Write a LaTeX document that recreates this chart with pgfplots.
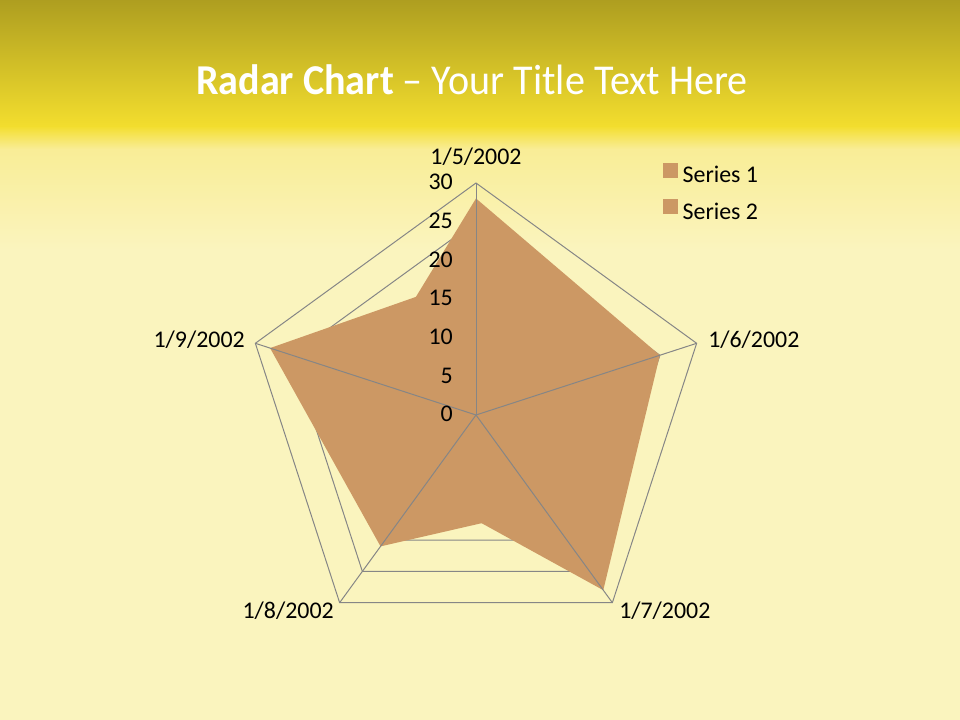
\documentclass[border=0pt]{standalone}
\usepackage{pgfplots}
\pgfplotsset{compat=1.18}
\usepackage{fontspec}
\setmainfont{Carlito}

\definecolor{radarfill}{RGB}{204,152,100}
\definecolor{gridgrey}{RGB}{134,134,134}
\definecolor{bgtop}{RGB}{174,158,32}
\definecolor{bgmid}{RGB}{243,222,46}
\definecolor{bgpale}{RGB}{250,244,190}
\definecolor{bgwarm}{RGB}{249,237,150}

\newcommand{\lab}{\fontsize{18}{21.6}\selectfont}

\begin{document}
\begin{tikzpicture}[x=0.75bp,y=0.75bp]
\useasboundingbox (0,0) rectangle (960,720);
% slide background
\fill[bgpale] (0,0) rectangle (960,720);
\shade[top color=bgwarm, bottom color=bgpale] (0,572) rectangle (960,470);
\shade[top color=bgmid, bottom color=bgwarm] (0,594) rectangle (960,571);
\shade[top color=bgtop, bottom color=bgmid] (0,720) rectangle (960,593);

% title
\node[anchor=base, inner sep=0pt, text=white, xscale=0.943,
      font=\fontsize{32}{38}\selectfont]
  at (472,625) {\textbf{Radar Chart} – Your Title Text Here};

\begin{axis}[
  at={(0,0)}, anchor=south west,
  x=5.8bp, y=5.8bp,
  xmin=-61.552, xmax=62.586, ymin=-39.440, ymax=53.664,
  hide axis, clip=false,
  legend cell align=left,
  legend image code/.code={\fill[#1] (0bp,-0.6bp) rectangle (11.2bp,10.6bp);},
  legend style={at={(axis cs:24.2,32.65)}, anchor=north west,
    draw=none, fill=none, inner sep=0pt, font=\lab,
    row sep=8.4bp, column sep=3.2bp,
    nodes={inner sep=0pt, text height=13bp, text depth=4bp}},
]
% pentagon rings (under the fill)
\pgfplotsinvokeforeach{5,10,15,20,25,30}{
  \addplot[forget plot, gridgrey, line width=0.75bp, data cs=polar]
    coordinates {(90,#1) (18,#1) (-54,#1) (-126,#1) (162,#1) (90,#1)};
}
% Series 1: 1/5, 1/6, 1/7, 1/8, 1/9
\addplot[fill=radarfill, draw=none, data cs=polar]
  coordinates {(90,28) (18,25) (-54,28) (-126,12) (162,15) (90,28)};
\addlegendentry{Series 1}
% Series 2
\addplot[fill=radarfill, draw=none, data cs=polar]
  coordinates {(90,18) (18,12) (-54,15) (-126,21) (162,28) (90,18)};
\addlegendentry{Series 2}
% spokes (over the fill)
\pgfplotsinvokeforeach{90,18,-54,-126,162}{
  \addplot[forget plot, gridgrey, line width=0.75bp, data cs=polar]
    coordinates {(#1,0) (#1,30)};
}
\end{axis}

% category labels
\begin{scope}[every node/.style={inner sep=0pt, font=\lab}]
\node[anchor=base] at (476,555) {1/5/2002};
\node[anchor=base west] at (708,372) {1/6/2002};
\node[anchor=base west] at (619,102) {1/7/2002};
\node[anchor=base east] at (334,102) {1/8/2002};
\node[anchor=base east] at (245,372) {1/9/2002};
% radial tick labels
\foreach \v in {0,5,...,30}
  \node[anchor=base east] at (453,{298.3+7.7333*\v}) {\v};
\end{scope}
\end{tikzpicture}
\end{document}
